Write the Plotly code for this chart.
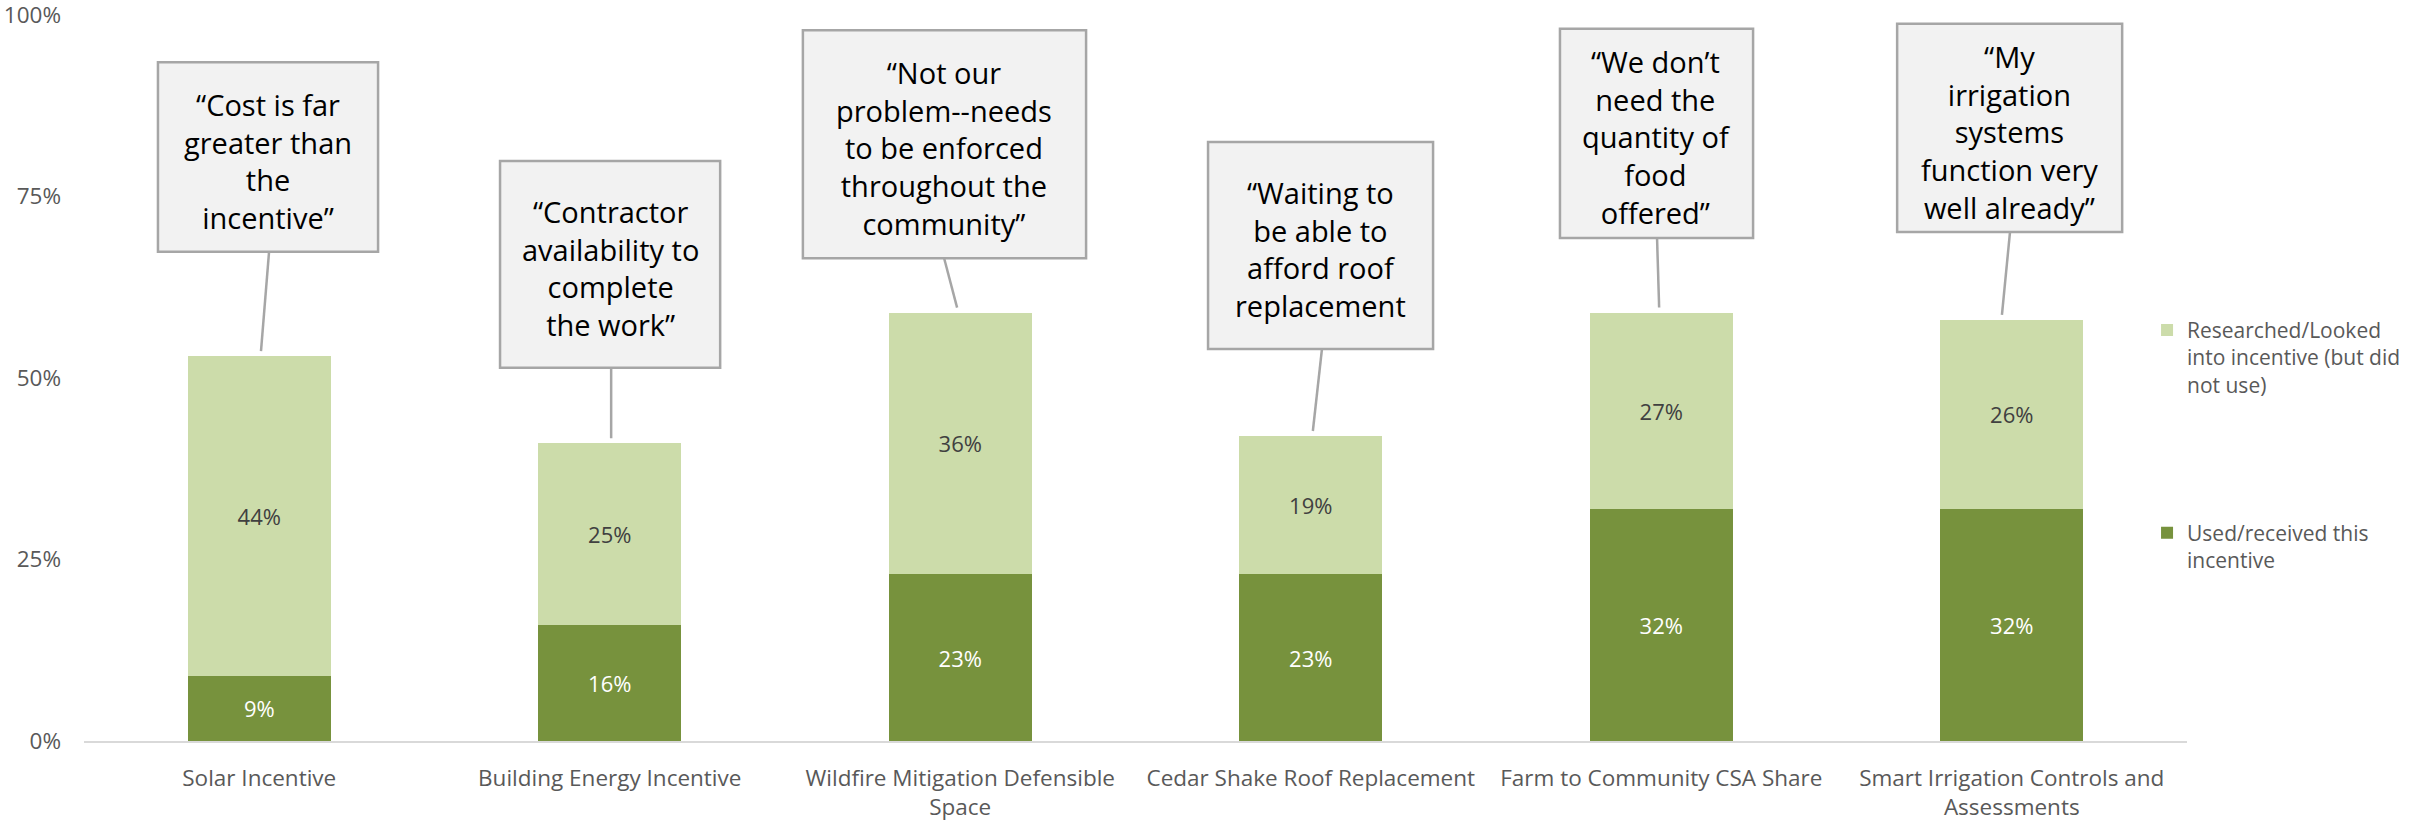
import plotly.graph_objects as go

# ---- data -------------------------------------------------------------
categories = [
    "Solar Incentive",
    "Building Energy Incentive",
    "Wildfire Mitigation Defensible<br>Space",
    "Cedar Shake Roof Replacement",
    "Farm to Community CSA Share",
    "Smart Irrigation Controls and<br>Assessments",
]
used = [9, 16, 23, 23, 32, 32]
researched = [44, 25, 36, 19, 27, 26]

used_name = "Used/received this<br>incentive"
researched_name = "Researched/Looked<br>into incentive (but did<br>not use)"

y_tick_values = [0, 25, 50, 75, 100]
y_tick_labels = ["0%", "25%", "50%", "75%", "100%"]

quotes = [
    "“Cost is far<br>greater than<br>the<br>incentive”",
    "“Contractor<br>availability to<br>complete<br>the work”",
    "“Not our<br>problem--needs<br>to be enforced<br>throughout the<br>community”",
    "“Waiting to<br>be able to<br>afford roof<br>replacement",
    "“We don’t<br>need the<br>quantity of<br>food<br>offered”",
    "“My<br>irrigation<br>systems<br>function very<br>well already”",
]

# ---- callout geometry (axis units: category index, percent) -----------
# box extents plus the x where the leader line leaves the box / meets the bar
callout_layout = [
    dict(x0=-0.289, x1=0.339, y0=67.4, y1=93.5, lx0=0.028, lx1=0.005),
    dict(x0=0.687, x1=1.315, y0=51.4, y1=79.9, lx0=1.004, lx1=1.004),
    dict(x0=1.551, x1=2.359, y0=66.5, y1=97.9, lx0=1.954, lx1=1.991),
    dict(x0=2.707, x1=3.349, y0=54.0, y1=82.5, lx0=3.032, lx1=3.006),
    dict(x0=3.711, x1=4.262, y0=69.3, y1=98.1, lx0=3.988, lx1=3.994),
    dict(x0=4.673, x1=5.315, y0=70.1, y1=98.8, lx0=4.995, lx1=4.972),
]

FONT = "Open Sans, Segoe UI, sans-serif"
DARK_GREEN = "#77923D"
LIGHT_GREEN = "#CCDCAA"
AXIS_TEXT = "#595959"
BOX_LINE = "#A6A6A6"
BOX_FILL = "#F2F2F2"

x_idx = list(range(len(categories)))
totals = [u + r for u, r in zip(used, researched)]

fig = go.Figure()
fig.add_trace(go.Bar(
    x=x_idx, y=used, name=used_name, legendgroup="used", legendrank=2,
    marker=dict(color=DARK_GREEN, line=dict(width=0)),
    text=[f"{v}%" for v in used], textposition="inside",
    insidetextanchor="middle", textangle=0, constraintext="none",
    insidetextfont=dict(family=FONT, size=22, color="#FFFFFF"),
    hoverinfo="skip",
))
fig.add_trace(go.Bar(
    x=x_idx, y=researched, name=researched_name, legendgroup="researched",
    legendrank=1,
    marker=dict(color=LIGHT_GREEN, line=dict(width=0)),
    text=[f"{v}%" for v in researched], textposition="inside",
    insidetextanchor="middle", textangle=0, constraintext="none",
    insidetextfont=dict(family=FONT, size=22, color="#404040"),
    hoverinfo="skip",
))

shapes = []
annotations = []
for quote, box, total in zip(quotes, callout_layout, totals):
    # leader line from the bottom of the box down to just above the bar
    shapes.append(dict(
        type="line", xref="x", yref="y",
        x0=box["lx0"], y0=box["y0"], x1=box["lx1"], y1=total + 0.7,
        line=dict(color=BOX_LINE, width=2.5), layer="above",
    ))
    shapes.append(dict(
        type="rect", xref="x", yref="y",
        x0=box["x0"], x1=box["x1"], y0=box["y0"], y1=box["y1"],
        fillcolor=BOX_FILL, line=dict(color=BOX_LINE, width=2.5), layer="above",
    ))
    annotations.append(dict(
        xref="x", yref="y",
        x=(box["x0"] + box["x1"]) / 2, y=(box["y0"] + box["y1"]) / 2 - 0.5,
        text=quote, showarrow=False, align="center",
        xanchor="center", yanchor="middle",
        font=dict(family=FONT, size=29, color="#000000"),
    ))

fig.update_layout(
    width=2412, height=825,
    margin=dict(l=84, r=225, t=15, b=84, autoexpand=False),
    paper_bgcolor="#FFFFFF", plot_bgcolor="#FFFFFF",
    barmode="stack", bargap=0.592,
    font=dict(family=FONT, size=22, color=AXIS_TEXT),
    shapes=shapes, annotations=annotations,
    showlegend=True,
    legend=dict(
        x=0.981, y=0.594, xanchor="left", yanchor="top",
        traceorder="grouped", valign="top",
        tracegroupgap=118,
        font=dict(family=FONT, size=21, color=AXIS_TEXT),
        bgcolor="rgba(0,0,0,0)",
    ),
    xaxis=dict(
        range=[-0.5, len(categories) - 0.5],
        tickvals=x_idx, ticktext=categories,
        showline=True, linecolor="#D9D9D9", linewidth=2,
        showgrid=False, zeroline=False, ticks="",
        ticklabelstandoff=16, automargin=False,
        tickfont=dict(family=FONT, size=22.5, color=AXIS_TEXT),
        fixedrange=True,
    ),
    yaxis=dict(
        range=[0, 100],
        tickvals=y_tick_values, ticktext=y_tick_labels,
        showline=False, showgrid=False, zeroline=False, ticks="",
        ticklabelstandoff=22, ticklabeloverflow="allow", automargin=False,
        tickfont=dict(family=FONT, size=22.5, color=AXIS_TEXT),
        fixedrange=True,
    ),
)

fig.write_html("out.html", config=dict(displayModeBar=False))
